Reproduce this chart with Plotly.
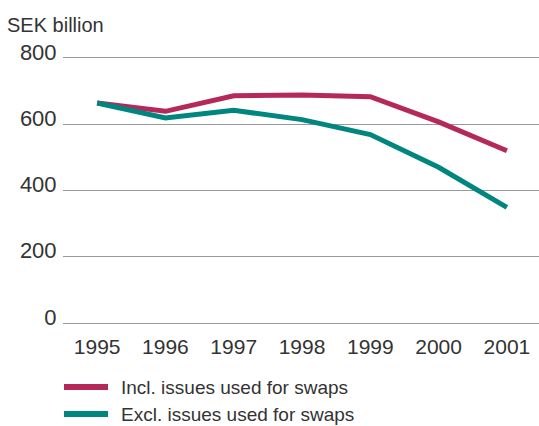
import plotly.graph_objects as go

years = [1995, 1996, 1997, 1998, 1999, 2000, 2001]
incl_swaps = [664, 639, 686, 688, 683, 607, 520]
excl_swaps = [664, 619, 642, 614, 569, 470, 349]
y_ticks = [0, 200, 400, 600, 800]
series_names = ["Incl. issues used for swaps", "Excl. issues used for swaps"]
series_colors = ["#B5295A", "#00867E"]

FONT = "Liberation Sans"
TXT = "#333333"

# layout helpers (pixel -> paper coordinates)
L, R, T, B = 63, 0, 55, 100
W, H = 539, 426
PW, PH = W - L - R, H - T - B


def px_x(p):
    return (p - L) / PW


def px_y(p):
    return (H - B - p) / PH


fig = go.Figure()
for name, vals, col in zip(series_names, [incl_swaps, excl_swaps], series_colors):
    fig.add_trace(go.Scatter(x=years, y=vals, mode="lines", name=name,
                             line=dict(color=col, width=5), showlegend=False))

shapes = []
annotations = [dict(text="SEK billion", xref="paper", yref="paper", x=px_x(5), y=px_y(25),
                    xanchor="left", yanchor="middle", showarrow=False,
                    font=dict(size=20, color=TXT))]
for i, (name, col) in enumerate(zip(series_names, series_colors)):
    yp = 387 + 27 * i
    shapes.append(dict(type="line", xref="paper", yref="paper",
                       x0=px_x(64), x1=px_x(108), y0=px_y(yp), y1=px_y(yp),
                       line=dict(color=col, width=6)))
    annotations.append(dict(text=name, xref="paper", yref="paper", x=px_x(120), y=px_y(yp),
                            xanchor="left", yanchor="middle", showarrow=False, borderpad=0,
                            font=dict(size=19, color=TXT)))

fig.update_layout(
    width=W, height=H,
    margin=dict(l=L, r=R, t=T, b=B),
    paper_bgcolor="white", plot_bgcolor="white",
    font=dict(family=FONT, color=TXT, size=18),
    showlegend=False,
    xaxis=dict(range=[1994.5, 2001.47], tickvals=years, ticktext=[str(y) for y in years],
               showgrid=False, zeroline=False, showline=False, ticks="outside",
               ticklen=2, tickcolor="rgba(0,0,0,0)", tickfont=dict(size=21)),
    yaxis=dict(range=[-9, 809], tickvals=y_ticks, showgrid=True, gridcolor="#9a9a9a", gridwidth=1,
               zeroline=False, showline=False, ticks="outside", ticklen=1,
               tickcolor="rgba(0,0,0,0)", tickfont=dict(size=22), ticklabelshift=-6),
    shapes=shapes,
    annotations=annotations,
)

fig.write_html("out.html")
